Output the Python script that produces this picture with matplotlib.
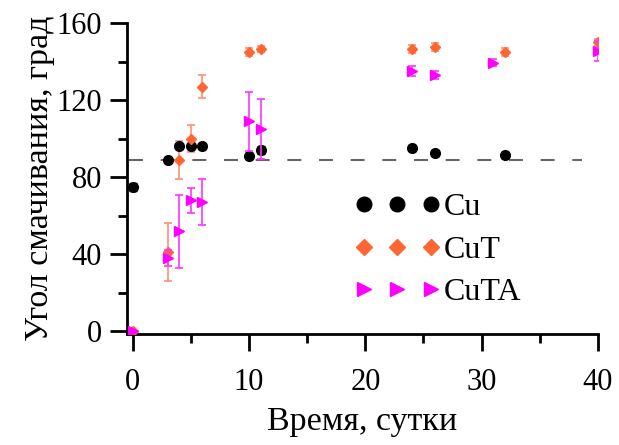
import matplotlib
matplotlib.use('Agg')
import matplotlib.pyplot as plt
from matplotlib.ticker import MultipleLocator
from matplotlib.lines import Line2D

plt.rcParams['font.family'] = ['Liberation Serif', 'DejaVu Serif']

# time, days
cu_t = [0, 3, 4, 5, 6, 10, 11, 24, 26, 32]
cu_v = [75, 89, 96, 96, 96, 91, 94, 95, 92.5, 91.5]
cu_e = [2, 1.5, 1.5, 1.5, 1.5, 1.5, 2, 1.5, 1.5, 1.5]

cut_t = [0, 3, 4, 5, 6, 10, 11, 24, 26, 32, 40]
cut_v = [0, 41, 89, 100, 127, 145, 146.5, 146.5, 147.5, 145, 150]
cut_e = [0.5, 15, 10, 7, 6, 2, 1.5, 2, 2, 2, 2]

cuta_t = [0, 3, 4, 5, 6, 10, 11, 24, 26, 31, 40]
cuta_v = [0, 38, 52, 68, 67, 109, 105, 135, 133, 139.5, 145.5]
cuta_e = [0.5, 4, 19, 6.5, 12, 15.5, 15.5, 2.5, 2, 2, 5]

ref_level = 89

fig = plt.figure(figsize=(6.19, 4.45), dpi=100)
ax = fig.add_axes([0.205, 0.249, 0.761, 0.699])

ax.hlines(ref_level, -0.3, 38.6, colors='#666666', linestyles=(0, (6.7, 8.5)), lw=1.5, zorder=1)

ax.errorbar(cu_t, cu_v, yerr=cu_e, fmt='o', color='black', ms=7, capsize=3,
            elinewidth=1, capthick=1, zorder=3)
ax.errorbar(cut_t, cut_v, yerr=cut_e, fmt='D', color='#FF6633', ecolor='#FF9070', ms=5.5,
            capsize=3, elinewidth=1.2, capthick=1.2, zorder=3)
ax.errorbar(cuta_t, cuta_v, yerr=cuta_e, fmt='>', color='#FF00FF', ecolor='#FF33FF', ms=6.5,
            capsize=3, elinewidth=1.2, capthick=1.2, zorder=4)

ax.set_xlim(-0.5, 40)
ax.set_ylim(-1.5, 160)
ax.xaxis.set_major_locator(MultipleLocator(10))
ax.xaxis.set_minor_locator(MultipleLocator(5))
ax.yaxis.set_major_locator(MultipleLocator(40))
ax.yaxis.set_minor_locator(MultipleLocator(20))

for s in ['top', 'right']:
    ax.spines[s].set_visible(False)
for s in ['left', 'bottom']:
    ax.spines[s].set_linewidth(2)

ax.tick_params(which='major', direction='out', length=12, width=2, labelsize=22)
ax.tick_params(which='minor', direction='out', length=6.5, width=2)
ax.tick_params(axis='x', which='major', pad=12)
ax.tick_params(axis='y', which='major', pad=6)

ax.set_xlabel('Время, сутки', fontsize=24.5, labelpad=7)
ax.set_ylabel('Угол смачивания, град', fontsize=24.5, labelpad=1)

handles = [
    Line2D([], [], ls='none', marker='o', color='black', ms=10.5),
    Line2D([], [], ls='none', marker='D', color='#FF6633', ms=8),
    Line2D([], [], ls='none', marker='>', color='#FF00FF', ms=10),
]
ax.legend(handles, ['Cu', 'CuT', 'CuTA'], loc='center left',
          bbox_to_anchor=(354 / 619, 1 - 250 / 445), bbox_transform=fig.transFigure,
          frameon=False, numpoints=3, fontsize=23, handlelength=2.7,
          handletextpad=0.12, labelspacing=0.42, borderpad=0, borderaxespad=0)

fig.savefig('out.png', dpi=100)
